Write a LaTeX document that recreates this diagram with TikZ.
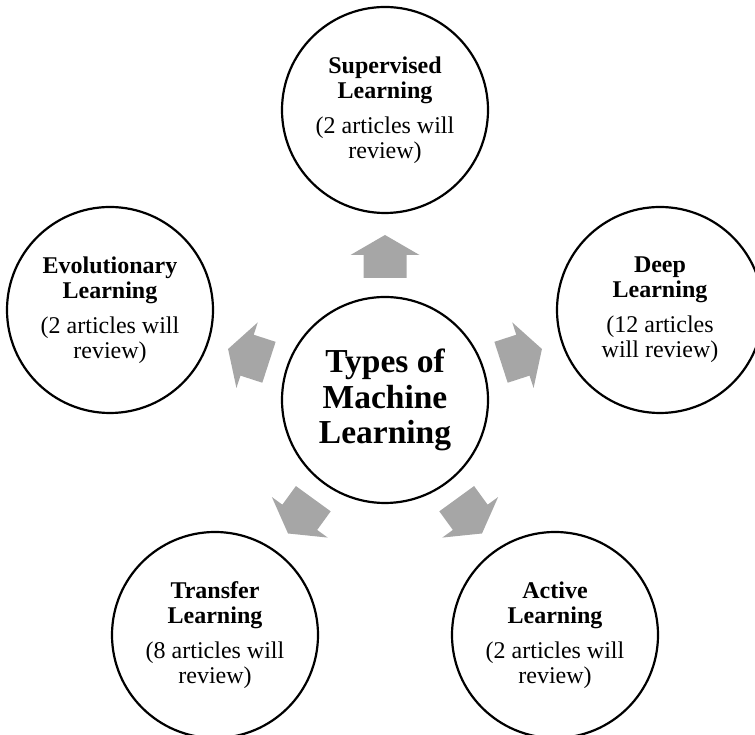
\documentclass[tikz,border=0pt]{standalone}
\usepackage{fontspec}
\setmainfont{Liberation Serif}
\definecolor{arrowgray}{RGB}{166,166,166}
\begin{document}
\begin{tikzpicture} [x=1pt,y=1pt,
		topic/.style={draw,circle,line width=2.2pt,minimum size=206pt,inner sep=0pt,align=center,font=\fontsize{24}{25}\selectfont},
		hubnode/.style={topic,font=\fontsize{33.5}{35.5}\selectfont\bfseries},
		blockarrow/.style={fill=arrowgray}]
		\useasboundingbox (0,0) rectangle (755,735);
		\node [hubnode] (hub) at (385,335) {Types of\\Machine\\Learning};
		\node [topic] (supervised) at (385,625) {\textbf{Supervised}\\\textbf{Learning}\\[10pt](2 articles will\\review)};
		\node [topic] (deep) at (660,425) {\textbf{Deep}\\\textbf{Learning}\\[10pt](12 articles\\will review)};
		\node [topic] (active) at (555,100) {\textbf{Active}\\\textbf{Learning}\\[10pt](2 articles will\\review)};
		\node [topic] (transfer) at (215,100) {\textbf{Transfer}\\\textbf{Learning}\\[10pt](8 articles will\\review)};
		\node [topic] (evolutionary) at (110,425) {\textbf{Evolutionary}\\\textbf{Learning}\\[10pt](2 articles will\\review)};
		\begin{scope} [shift={(hub.center)},rotate=90]
			\fill [blockarrow] (122,-21.5) -- (145,-21.5) -- (145,-34.5) -- (165,0) -- (145,34.5) -- (145,21.5) -- (122,21.5) -- cycle;
		\end{scope}
		\begin{scope} [shift={(hub.center)},rotate=18]
			\fill [blockarrow] (122,-21.5) -- (145,-21.5) -- (145,-34.5) -- (165,0) -- (145,34.5) -- (145,21.5) -- (122,21.5) -- cycle;
		\end{scope}
		\begin{scope} [shift={(hub.center)},rotate=-54]
			\fill [blockarrow] (122,-21.5) -- (145,-21.5) -- (145,-34.5) -- (165,0) -- (145,34.5) -- (145,21.5) -- (122,21.5) -- cycle;
		\end{scope}
		\begin{scope} [shift={(hub.center)},rotate=-126]
			\fill [blockarrow] (122,-21.5) -- (145,-21.5) -- (145,-34.5) -- (165,0) -- (145,34.5) -- (145,21.5) -- (122,21.5) -- cycle;
		\end{scope}
		\begin{scope} [shift={(hub.center)},rotate=162]
			\fill [blockarrow] (122,-21.5) -- (145,-21.5) -- (145,-34.5) -- (165,0) -- (145,34.5) -- (145,21.5) -- (122,21.5) -- cycle;
		\end{scope}
	\end{tikzpicture}
\end{document}
